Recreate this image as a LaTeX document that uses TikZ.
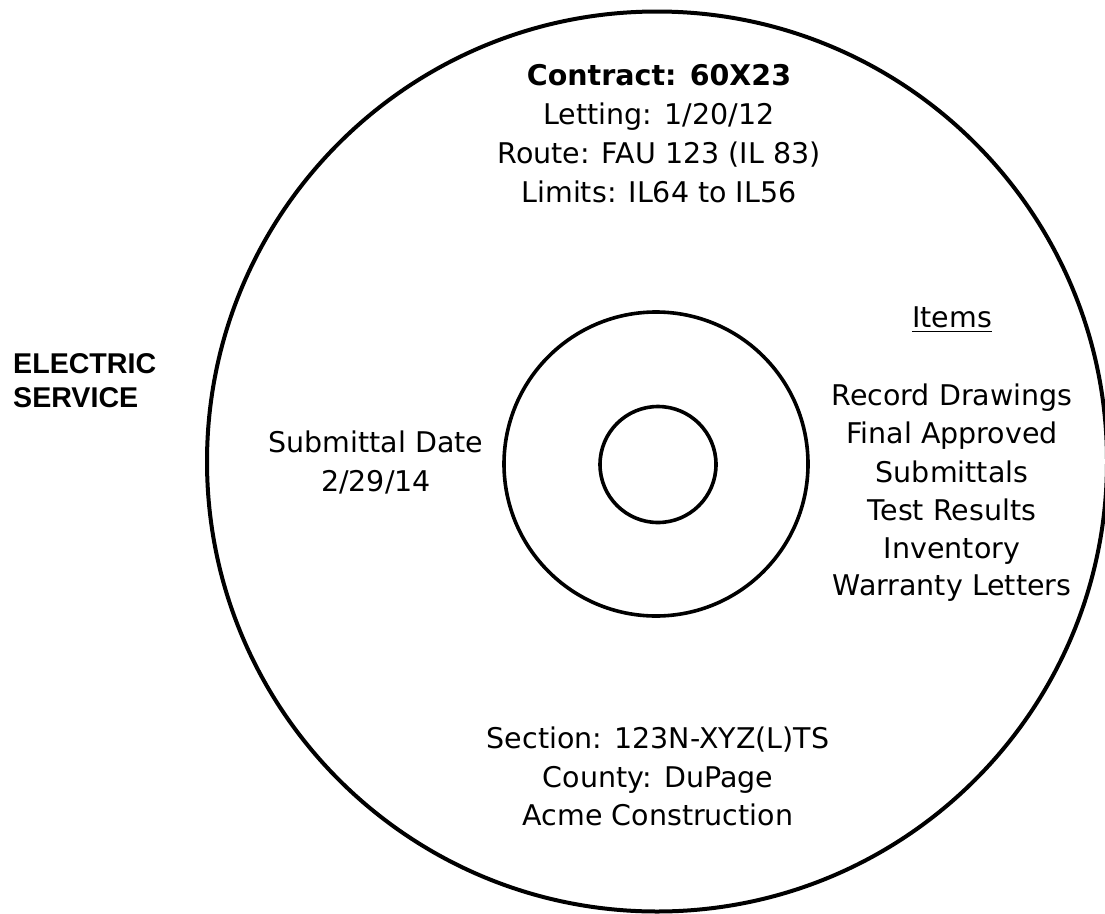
\documentclass[tikz,border=0pt]{standalone}
\usepackage{fontspec}
\setmainfont{DejaVu Sans}
\newfontfamily\arialfont{Liberation Sans}
\begin{document}
\begin{tikzpicture}[x=1pt,y=-1pt,
  txt/.style={anchor=base,inner sep=0pt,font=\fontsize{28.5}{39}\selectfont},
  hdr/.style={txt,font=\fontsize{28.5}{39}\selectfont\bfseries},
  side/.style={anchor=base west,inner sep=0pt,font=\fontsize{28.6}{34}\selectfont\arialfont\bfseries},
  ring/.style={draw=black,line width=4pt},
  hole/.style={draw=black,line width=3.6pt}]
\useasboundingbox (0,0) rectangle (1105,913);
\fill[white] (0,0) rectangle (1105,913);
% disc
\node[ring,circle,minimum size=900pt,inner sep=0pt] (disc) at (657,461.5) {};
\node[hole,circle,minimum size=304pt,inner sep=0pt] (hub) at (656,464) {};
\node[hole,circle,minimum size=116pt,inner sep=0pt] (spindle) at (658,464.5) {};
% side label
\node[side] (elec) at (13,373) {ELECTRIC};
\node[side] (serv) at (13,407) {SERVICE};
% top block
\node[hdr] (contract) at (659,85) {Contract: 60X23};
\node[txt] (letting) at (659,124.5) {Letting: 1/20/12};
\node[txt] (route) at (659,163.5) {Route: FAU 123 (IL 83)};
\node[txt] (limits) at (659,202) {Limits: IL64 to IL56};
% left block
\node[txt] (subm) at (376,452) {Submittal Date};
\node[txt] (sdate) at (376,491) {2/29/14};
% items block
\node[txt] (items) at (952,327) {Items};
\draw[line width=1.8pt] ([yshift=-4.5pt]items.base west) -- ([yshift=-4.5pt]items.base east);
\node[txt] (rec) at (952,405) {Record Drawings};
\node[txt] (fin) at (952,443.5) {Final Approved};
\node[txt] (sub) at (952,482) {Submittals};
\node[txt] (test) at (952,520) {Test Results};
\node[txt] (inv) at (952,558) {Inventory};
\node[txt] (war) at (952,595.5) {Warranty Letters};
% bottom block
\node[txt] (sect) at (658,748) {Section: 123N-XYZ(L)TS};
\node[txt] (county) at (658,787) {County: DuPage};
\node[txt] (acme) at (658,825) {Acme Construction};
\end{tikzpicture}
\end{document}
